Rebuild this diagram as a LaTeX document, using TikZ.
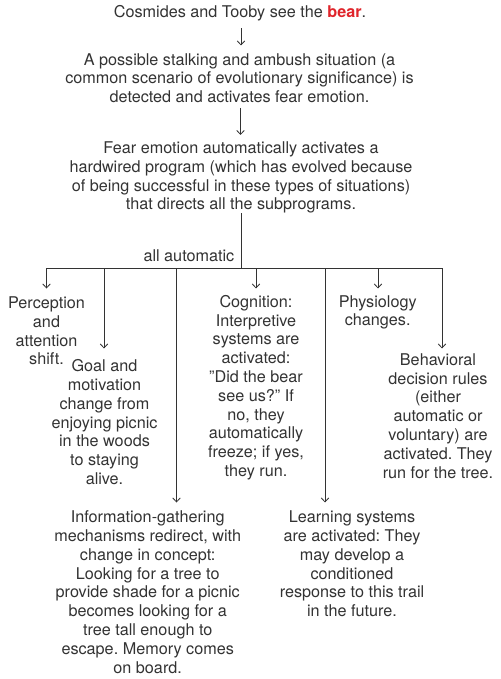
\documentclass[tikz,border=0pt]{standalone}
\usepackage{fontspec}
\setmainfont{TeX Gyre Heros}
\usetikzlibrary{arrows.meta}
\definecolor{txt}{HTML}{333333}
\definecolor{ln}{HTML}{333333}
\definecolor{bearred}{HTML}{E0252B}
\begin{document}
\frenchspacing
\begin{tikzpicture}[x=1pt,y=-1pt,
  lbl/.style={inner sep=0pt, align=center, text=txt, anchor=north,
    font=\fontsize{16.2}{18.8}\selectfont\frenchspacing},
  wire/.style={draw=ln, line width=0.8pt},
  arr/.style={wire, -{Straight Barb[length=4pt,width=7.5pt,line width=0.8pt]}}]
\useasboundingbox (0,0) rectangle (500,679);
\fill[white] (0,0) rectangle (500,679);

\node[lbl] (title) at (240,5.5) {Cosmides and Tooby see the \textcolor{bearred}{\textbf{bear}}.};
\node[lbl] (detect) at (239.5,53) {A possible stalking and ambush situation (a\\common scenario of evolutionary significance) is\\detected and activates fear emotion.};
\node[lbl] (fear) at (241,141.5) {Fear emotion automatically activates a\\hardwired program (which has evolved because\\of being successful in these types of situations)\\that directs all the subprograms.};
\node[lbl, anchor=north east] (auto) at (234.5,249) {all automatic};

\node[lbl] (perc) at (46.5,296.5) {Perception\\and\\attention\\shift.};
\node[lbl] (goal) at (104.5,359.3) {Goal and\\motivation\\change from\\enjoying picnic\\in the woods\\to staying\\alive.};
\node[lbl] (info) at (147.7,510.7) {Information-gathering\\mechanisms redirect, with\\change in concept:\\Looking for a tree to\\provide shade for a picnic\\becomes looking for a\\tree tall enough to\\escape. Memory comes\\on board.};
\node[lbl] (cogn) at (256,295) {Cognition:\\Interpretive\\systems are\\activated:\\"Did the bear\\see us?" If\\no, they\\automatically\\freeze; if yes,\\they run.};
\node[lbl] (learn) at (352,510.7) {Learning systems\\are activated: They\\may develop a\\conditioned\\response to this trail\\in the future.};
\node[lbl] (phys) at (377.7,295) {Physiology\\changes.};
\node[lbl] (behav) at (438,353.3) {Behavioral\\decision rules\\(either\\automatic or\\voluntary) are\\activated. They\\run for the tree.};

% trunk connectors
\coordinate (t1) at (241,28.5);
\coordinate (t2) at (241,45.5);
\coordinate (d1) at (240.5,108);
\coordinate (d2) at (240.5,135);
\coordinate (f1) at (241,213);
\coordinate (hub) at (241,268);
\draw[arr] (t1) -- (t2);
\draw[arr] (d1) -- (d2);
\draw[wire] (f1) -- (hub);

% bus
\coordinate (busL) at (46.5,268);
\coordinate (busR) at (442,268);
\draw[wire] (busL) -- (busR);

% branches
\coordinate (bP) at (46.5,268);  \coordinate (eP) at (46.5,288.5);
\coordinate (bG) at (104,268);   \coordinate (eG) at (104,348.5);
\coordinate (bI) at (176.5,268); \coordinate (eI) at (176.5,502.5);
\coordinate (bC) at (256,268);   \coordinate (eC) at (256,288.5);
\coordinate (bL) at (325,268);   \coordinate (eL) at (325,502.5);
\coordinate (bPh) at (378,268);  \coordinate (ePh) at (378,288.5);
\coordinate (bB) at (442,268);   \coordinate (eB) at (442,348.5);
\foreach \s/\e in {bP/eP,bG/eG,bI/eI,bC/eC,bL/eL,bPh/ePh,bB/eB}
  \draw[arr] (\s) -- (\e);
\end{tikzpicture}
\end{document}
